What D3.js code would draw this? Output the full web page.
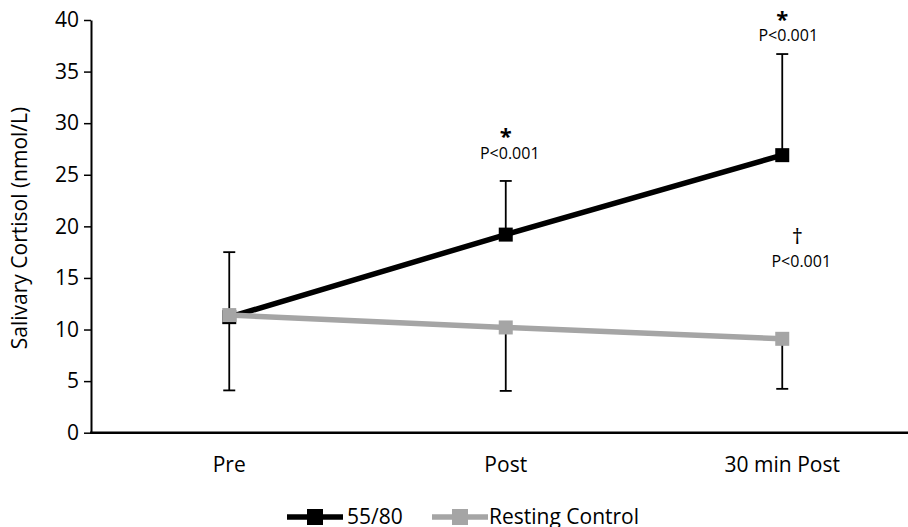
<!DOCTYPE html>
<html>
<head>
<meta charset="utf-8">
<script src="https://cdn.jsdelivr.net/npm/d3@7"></script>
<style>
  body { margin: 0; background: #fff; }
  svg { display: block; font-family: 'Open Sans', sans-serif; }
</style>
</head>
<body>
<script>
const categories = ['Pre', 'Post', '30 min Post'];
const exerciseValues = [11.2, 19.2, 26.9];
const exerciseUpper = [17.5, 24.4, 36.7];
const controlValues = [11.4, 10.2, 9.1];
const controlLower = [4.1, 4.05, 4.25];
const yTicks = [0, 5, 10, 15, 20, 25, 30, 35, 40];
const seriesNames = ['55/80', 'Resting Control'];
// significance labels: category, symbol, baseline value of symbol and of p text
const annotations = [
  { cat: 'Post', symbol: '*', sy: 28.0, py: 26.55, dx: 0, pdx: 4 },
  { cat: '30 min Post', symbol: '*', sy: 39.3, py: 38.0, dx: 0, pdx: 6 },
  { cat: '30 min Post', symbol: '\u2020', sy: 18.25, py: 16.1, dx: 15, pdx: 19 }
];

const width = 908;
const height = 527;
const margin = { top: 20, left: 91 };
const yZero = 432.7;

const svg = d3.select('body').append('svg')
  .attr('width', width)
  .attr('height', height);

const xScale = d3.scalePoint()
  .domain(categories)
  .range([margin.left, margin.left + 3 * 276.5])
  .padding(0.5);

const yScale = d3.scaleLinear()
  .domain([0, 40])
  .range([yZero, margin.top]);

// y axis
const yAxis = d3.axisLeft(yScale)
  .tickValues(yTicks)
  .tickSize(7)
  .tickSizeOuter(0)
  .tickPadding(5);

const yG = svg.append('g')
  .attr('transform', `translate(${margin.left},0)`)
  .call(yAxis);
yG.select('.domain').attr('stroke', '#000').attr('stroke-width', 2);
yG.selectAll('.tick line').attr('stroke', '#000').attr('stroke-width', 1.5);
yG.selectAll('.tick text')
  .attr('font-size', 21)
  .attr('font-family', "'Open Sans', sans-serif")
  .attr('fill', '#000');

// x axis
svg.append('line')
  .attr('x1', margin.left - 1)
  .attr('x2', width)
  .attr('y1', yZero)
  .attr('y2', yZero)
  .attr('stroke', '#000')
  .attr('stroke-width', 2.5);

svg.selectAll('.xlabel').data(categories)
  .enter().append('text')
  .attr('class', 'xlabel')
  .attr('x', d => xScale(d))
  .attr('y', 472)
  .attr('text-anchor', 'middle')
  .attr('font-size', 21)
  .text(d => d);

svg.append('text')
  .attr('transform', `translate(27, 228) rotate(-90)`)
  .attr('text-anchor', 'middle')
  .attr('font-size', 21)
  .text('Salivary Cortisol (nmol/L)');

const line = d3.line()
  .x((d, i) => xScale(categories[i]))
  .y(d => yScale(d));

// error bars
const capW = 6;
const drawErr = (vals, ends) => {
  vals.forEach((v, i) => {
    const x = xScale(categories[i]);
    const g = svg.append('g').attr('stroke', '#000').attr('stroke-width', 1.8);
    g.append('line').attr('x1', x).attr('x2', x)
      .attr('y1', yScale(v)).attr('y2', yScale(ends[i]));
    g.append('line').attr('x1', x - capW).attr('x2', x + capW)
      .attr('y1', yScale(ends[i])).attr('y2', yScale(ends[i]));
  });
};

drawErr(exerciseValues, exerciseUpper);
drawErr(controlValues, controlLower);

// series
const series = [
  { name: seriesNames[0], values: exerciseValues, color: '#000000' },
  { name: seriesNames[1], values: controlValues, color: '#a5a5a5' }
];

const markerSize = 14;
series.forEach(s => {
  svg.append('path')
    .datum(s.values)
    .attr('d', line)
    .attr('fill', 'none')
    .attr('stroke', s.color)
    .attr('stroke-width', 5.5);
  svg.selectAll(null).data(s.values)
    .enter().append('rect')
    .attr('x', (d, i) => xScale(categories[i]) - markerSize / 2)
    .attr('y', d => yScale(d) - markerSize / 2)
    .attr('width', markerSize)
    .attr('height', markerSize)
    .attr('fill', s.color);
});

// annotations
annotations.forEach(a => {
  const x = xScale(a.cat);
  svg.append('text')
    .attr('x', x + a.dx)
    .attr('y', yScale(a.sy))
    .attr('text-anchor', 'middle')
    .attr('font-size', 22)
    .attr('font-weight', a.symbol === '*' ? 'bold' : 'normal')
    .text(a.symbol);
  svg.append('text')
    .attr('x', x + a.pdx)
    .attr('y', yScale(a.py))
    .attr('text-anchor', 'middle')
    .attr('font-size', 16)
    .text('P<0.001');
});

// legend
const legendItems = [
  { x: 287, textX: 347 },
  { x: 432, textX: 489 }
];
const legendY = 517;
series.forEach((s, i) => {
  const lg = svg.append('g');
  const li = legendItems[i];
  lg.append('line')
    .attr('x1', li.x).attr('x2', li.x + 56)
    .attr('y1', legendY).attr('y2', legendY)
    .attr('stroke', s.color).attr('stroke-width', 5.5);
  lg.append('rect')
    .attr('x', li.x + 28 - 8).attr('y', legendY - 8)
    .attr('width', 16).attr('height', 16)
    .attr('fill', s.color);
  lg.append('text')
    .attr('x', li.textX)
    .attr('y', legendY + 7)
    .attr('font-size', 21)
    .text(s.name);
});
</script>
</body>
</html>
